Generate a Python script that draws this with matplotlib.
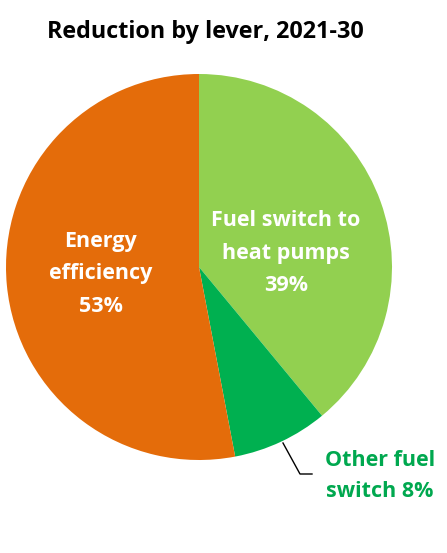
import matplotlib
matplotlib.use("Agg")
import matplotlib.pyplot as plt

title = "Reduction by lever, 2021-30"
categories = ["Fuel switch to\nheat pumps\n39%", "Other fuel\nswitch 8%", "Energy\nefficiency\n53%"]
values = [39, 8, 53]
colors = ["#92D050", "#00B050", "#E46C0A"]

W, H = 447, 553
fig = plt.figure(figsize=(W / 100, H / 100), dpi=100)
ax = fig.add_axes([0, 0, 1, 1])

cx, cy, r = 199, H - 267, 193
ax.pie(values, colors=colors, startangle=90, counterclock=False,
       center=(cx, cy), radius=r, frame=True,
       wedgeprops=dict(linewidth=0))
ax.set_xlim(0, W)
ax.set_ylim(0, H)
ax.set_aspect("equal")
ax.axis("off")

fam = ["Open Sans", "DejaVu Sans"]
fig.text(205 / W, 1 - 38 / H, title, ha="center", va="baseline",
         fontsize=16.8, fontweight="bold", family=fam, color="black")

ax.text(101, H - 274, categories[2], ha="center", va="center", fontsize=15.5,
        fontweight="bold", family=fam, color="white", linespacing=1.72)
ax.text(286, H - 253, categories[0], ha="center", va="center", fontsize=15.5,
        fontweight="bold", family=fam, color="white", linespacing=1.72)
ax.text(380, H - 476, categories[1], ha="center", va="center", fontsize=15.5,
        fontweight="bold", family=fam, color="#00A84F", linespacing=1.65)
ax.plot([283, 300, 312], [H - 443, H - 474, H - 474], color="black", lw=1)

fig.savefig("out.png", dpi=100)
